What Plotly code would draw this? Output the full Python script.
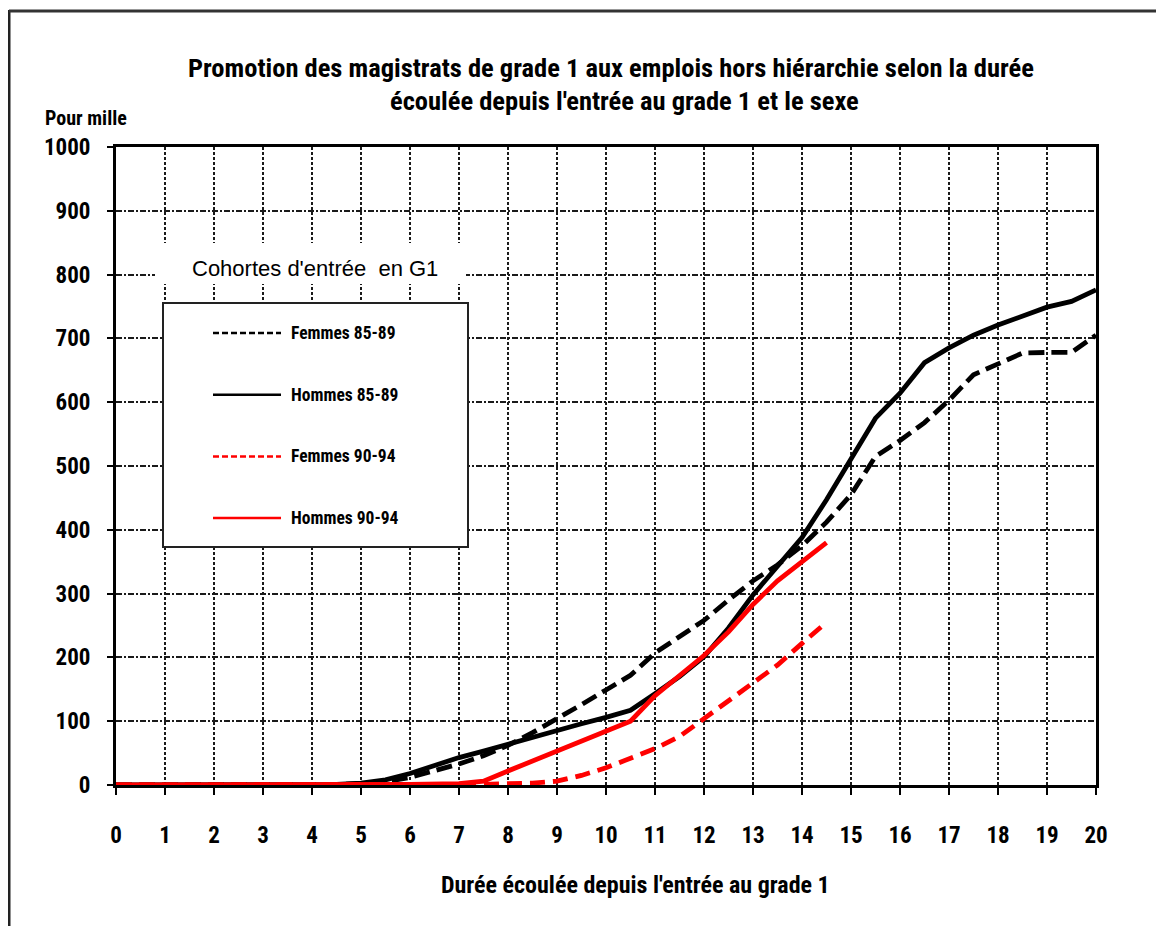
import plotly.graph_objects as go

# ---------------- data ----------------
years_8589 = [0, 1, 2, 3, 4, 4.5, 5, 5.5, 6, 6.5, 7, 7.5, 8, 8.5, 9, 9.5, 10, 10.5, 11, 11.5,
              12, 12.5, 13, 13.5, 14, 14.5, 15, 15.5, 16, 16.5, 17, 17.5, 18, 18.5, 19, 19.5, 20]
femmes_8589 = [0, 0, 0, 0, 0, 1, 2, 5, 12, 22, 33, 46, 62, 82, 103, 126, 149, 172, 207, 232,
               258, 290, 320, 345, 375, 412, 455, 515, 540, 568, 603, 643, 660, 677, 678, 678, 705]
hommes_8589 = [0, 0, 0, 0, 0, 1, 3, 8, 18, 30, 43, 53, 64, 75, 86, 96, 106, 117, 143, 170,
               201, 246, 298, 342, 388, 447, 512, 575, 614, 662, 685, 705, 721, 736, 749, 758, 776]

years_9094 = [0, 1, 2, 3, 4, 5, 6, 7, 7.5, 8, 8.5, 9, 9.5, 10, 10.5, 11, 11.5, 12, 12.5,
              13, 13.5, 14, 14.5]
femmes_9094 = [0, 0, 0, 0, 0, 0, 0, 0, 1, 2, 3, 6, 15, 27, 42, 57, 76, 104, 134,
               160, 188, 222, 255]
hommes_9094 = [0, 0, 0, 0, 0, 0, 1, 2, 6, 22, 38, 52, 68, 84, 100, 140, 172, 203, 240,
               283, 320, 350, 380]

series_names = ["Femmes 85-89", "Hommes 85-89", "Femmes 90-94", "Hommes 90-94"]
series_x = [years_8589, years_8589, years_9094, years_9094]
series_y = [femmes_8589, hommes_8589, femmes_9094, hommes_9094]
series_colors = ["#000000", "#000000", "#ff0000", "#ff0000"]
series_dash = ["16px,7px", "solid", "15px,8px", "solid"]
legend_dash = ["6px,3px", "solid", "6px,3px", "solid"]

x_ticks = list(range(0, 21))
y_ticks = list(range(0, 1001, 100))

title_line1 = "Promotion des magistrats de grade 1 aux emplois hors hiérarchie selon la durée"
title_line2 = "écoulée depuis l'entrée au grade 1 et le sexe"
y_title = "Pour mille"
x_title = "Durée écoulée depuis l'entrée au grade 1"
legend_title = "Cohortes d'entrée  en G1"

# ---------------- layout geometry (pixels, page coordinates) ----------------
W, H = 1164, 926
BODY = 8                               # default page body margin
PL, PR, PT, PB = 116, 1096, 147, 785   # plot area edges in page px


def px(xp):
    return (xp - PL) / (PR - PL)


def py(yp):
    return (PB - yp) / (PB - PT)


COND = "Roboto Condensed, Liberation Sans, Arial, sans-serif"
REG = "Liberation Sans, Arial, sans-serif"

fig = go.Figure()
for name, xs, ys, col, dash in zip(series_names, series_x, series_y, series_colors, series_dash):
    fig.add_trace(go.Scatter(
        x=xs, y=ys, mode="lines", name=name,
        line=dict(color=col, width=4.8, dash=dash),
        showlegend=False,
    ))

shapes = []
annotations = []


def label(text, x, y, size, family=COND, xanchor="center", bold=True):
    annotations.append(dict(text=("<b>%s</b>" % text) if bold else text,
                            xref="paper", yref="paper", x=px(x), y=py(y),
                            xanchor=xanchor, yanchor="middle", showarrow=False,
                            font=dict(family=family, size=size, color="black")))


# outer frame (left and top edges)
shapes.append(dict(type="line", xref="paper", yref="paper",
                   x0=px(9), x1=px(9), y0=py(10), y1=py(H + 20),
                   line=dict(color="#222222", width=3)))
shapes.append(dict(type="line", xref="paper", yref="paper",
                   x0=px(9), x1=px(W + 20), y0=py(11), y1=py(11),
                   line=dict(color="#333333", width=3)))

# legend title on white background
shapes.append(dict(type="rect", xref="paper", yref="paper", layer="above",
                   x0=px(155), x1=px(466), y0=py(284), y1=py(243),
                   fillcolor="white", line=dict(width=0)))
label(legend_title, 315, 268, 22, family=REG, bold=False)

# legend box
shapes.append(dict(type="rect", xref="paper", yref="paper", layer="above",
                   x0=px(163), x1=px(468), y0=py(547), y1=py(303),
                   fillcolor="white", line=dict(color="#222222", width=2)))
entry_y0 = 333
entry_gap = 61.7
for i, (name, col, dash) in enumerate(zip(series_names, series_colors, legend_dash)):
    ey = entry_y0 + i * entry_gap
    shapes.append(dict(type="line", xref="paper", yref="paper", layer="above",
                       x0=px(213), x1=px(281), y0=py(ey), y1=py(ey),
                       line=dict(color=col, width=2.5, dash=dash)))
    label(name, 289, ey, 17.5, xanchor="left")

# titles
label(title_line1, 611, 67, 26.5)
label(title_line2, 624, 101, 26.5)
label(y_title, 86, 118, 20)
label(x_title, 635, 885, 24)

fig.update_layout(
    width=W, height=H,
    margin=dict(l=PL - BODY, r=W - PR + BODY, t=PT - BODY, b=H - PB + BODY, pad=0),
    paper_bgcolor="white", plot_bgcolor="white",
    shapes=shapes, annotations=annotations,
    showlegend=False,
)

fig.update_xaxes(
    range=[0, 20], tickmode="array", tickvals=x_ticks,
    ticktext=["<b>%d</b>" % v for v in x_ticks],
    tickfont=dict(family=COND, size=23, color="black"),
    ticks="outside", ticklen=7, tickwidth=2, tickcolor="black",
    ticklabelstandoff=20,
    showline=True, linecolor="black", linewidth=3, mirror=True,
    showgrid=True, gridcolor="#1a1a1a", gridwidth=1.5, griddash="3px,2px",
    zeroline=False, layer="below traces",
)
fig.update_yaxes(
    range=[0, 1000], tickmode="array", tickvals=y_ticks,
    ticktext=["<b>%d</b>" % v for v in y_ticks],
    tickfont=dict(family=COND, size=23, color="black"),
    ticks="outside", ticklen=6, tickwidth=2, tickcolor="black",
    ticklabelstandoff=12,
    showline=True, linecolor="black", linewidth=3, mirror=True,
    showgrid=True, gridcolor="#1a1a1a", gridwidth=1.5, griddash="6px,2px,2px,2px",
    zeroline=False, layer="below traces",
)

fig.write_html("out.html")
